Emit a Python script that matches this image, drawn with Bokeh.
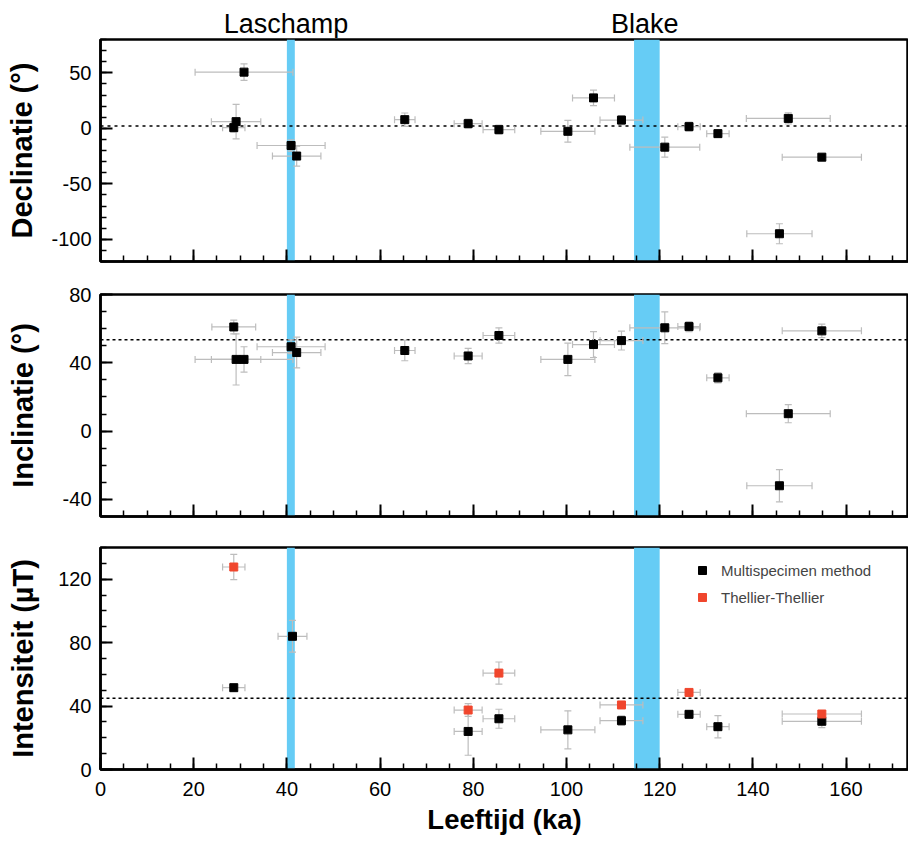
from bokeh.plotting import figure
from bokeh.models import (Range1d, ColumnDataSource, Whisker, TeeHead, BoxAnnotation,
                          Span, Legend, LegendItem, SingleIntervalTicker, NumeralTickFormatter)
from bokeh.core.properties import value
from bokeh.layouts import column
from bokeh.embed import file_html
from bokeh.resources import INLINE

# ---------------- data ----------------
ages = [28.6, 29.1, 30.8, 40.9, 42.1, 65.3, 78.9, 85.5, 100.3, 105.8, 111.8,
        121.1, 126.3, 132.5, 145.7, 147.6, 154.8]
dec_age_err = [2.4, 5.3, 10.5, 7.3, 5.2, 2.2, 3.0, 3.4, 5.8, 4.5, 4.6,
               7.5, 2.4, 2.4, 7.0, 9.0, 8.5]
inc_age_err = [4.7, 5.3, 10.5, 7.3, 5.2, 2.2, 3.0, 3.4, 5.8, 4.5, 4.6,
               7.5, 2.4, 2.4, 7.0, 9.0, 8.5]

declination = [0.6, 6.0, 50.6, -15.5, -25.0, 7.8, 4.2, -1.2, -2.7, 27.4, 7.4,
               -17.0, 1.5, -4.8, -95.0, 8.9, -26.0]
declination_err = [4.0, 15.5, 7.5, 5.0, 9.0, 6.0, 4.0, 4.0, 9.8, 7.0, 4.0,
                   9.0, 4.0, 3.0, 9.0, 5.0, 3.0]

inclination = [61.0, 42.0, 42.0, 49.4, 46.0, 47.2, 44.0, 56.0, 42.0, 50.7, 53.0,
               60.5, 61.2, 31.2, -32.0, 10.2, 58.7]
inclination_err = [4.0, 15.0, 7.4, 4.0, 9.0, 6.0, 4.5, 4.5, 9.5, 7.6, 5.5,
                   9.3, 3.0, 3.0, 9.4, 5.3, 4.0]

ms_ages = [28.6, 41.2, 78.9, 85.5, 100.3, 111.8, 126.3, 132.5, 154.8]
ms_age_err = [2.4, 3.1, 3.0, 3.4, 5.8, 4.6, 2.4, 2.4, 8.5]
ms_intensity = [51.6, 84.0, 24.0, 32.0, 25.0, 30.8, 34.8, 27.0, 30.4]
ms_intensity_err = [2.0, 10.0, 15.0, 6.0, 12.0, 3.0, 2.0, 7.0, 4.0]

tt_ages = [28.6, 78.9, 85.5, 111.8, 126.3, 154.8]
tt_age_err = [2.4, 3.0, 3.4, 4.6, 2.4, 8.5]
tt_intensity = [127.7, 37.5, 60.8, 40.7, 48.6, 35.0]
tt_intensity_err = [8.0, 4.0, 7.0, 2.0, 2.0, 2.0]

dec_mean, inc_mean, int_mean = 2.0, 53.5, 45.0

excursions = ["Laschamp", "Blake"]
excursion_start = [40.0, 114.5]
excursion_end = [41.7, 120.0]
excursion_label_x = [39.8, 116.8]

x_limits = (0, 173.4)
dec_limits = (-120, 80)
inc_limits = (-50, 80)
int_limits = (0, 140)

# ---------------- style ----------------
BLUE = "#66CCF5"
RED = "#F0462D"
GREY = "#BDBDBD"
FONT = "Liberation Sans"
W = 908
LEFT = 100

x_range = Range1d(*x_limits)


def make_fig(height, ylims, yint, ylabel, top, bottom, label_standoff, show_x):
    p = figure(width=W, height=height, x_range=x_range, y_range=Range1d(*ylims),
               output_backend="svg", toolbar_location=None,
               min_border_left=LEFT, min_border_right=0,
               min_border_top=top, min_border_bottom=bottom)
    p.background_fill_color = "white"
    p.border_fill_color = "white"
    p.outline_line_color = "black"
    p.outline_line_width = 2.5
    p.grid.visible = False
    p.xaxis.ticker = SingleIntervalTicker(interval=20, num_minor_ticks=4)
    p.yaxis.ticker = SingleIntervalTicker(interval=yint, num_minor_ticks=yint // 10)
    p.xaxis.formatter = NumeralTickFormatter(format="0")
    p.yaxis.formatter = NumeralTickFormatter(format="0")
    for ax in (p.xaxis[0], p.yaxis[0]):
        ax.axis_line_width = 2.5
        ax.axis_line_color = "black"
        ax.major_tick_in = 12
        ax.major_tick_out = 0
        ax.minor_tick_in = 6
        ax.minor_tick_out = 0
        ax.major_tick_line_width = 2
        ax.minor_tick_line_width = 1.5
        ax.major_label_text_font = FONT
        ax.major_label_text_font_size = "20px"
        ax.major_label_text_color = "black"
        ax.axis_label_text_font = FONT
        ax.axis_label_text_font_style = "bold"
        ax.axis_label_text_color = "black"
    p.yaxis.major_label_standoff = 9
    p.yaxis.axis_label = ylabel
    p.yaxis.axis_label_text_font_size = "29px"
    p.yaxis.axis_label_standoff = label_standoff
    if show_x:
        p.xaxis.major_label_standoff = 12
        p.xaxis.axis_label = "Leeftijd (ka)"
        p.xaxis.axis_label_text_font_size = "27.5px"
        p.xaxis.axis_label_standoff = 5
    else:
        p.xaxis.major_label_text_font_size = "1px"
        p.xaxis.major_label_text_color = None
        p.xaxis.major_label_standoff = 0
    for s, e in zip(excursion_start, excursion_end):
        p.add_layout(BoxAnnotation(left=s, right=e, fill_color=BLUE, fill_alpha=1.0,
                                   line_color=None, level="image"))
    return p


def add_points(p, x, xe, y, ye, color, mean=None, dash="3 3"):
    if mean is not None:
        p.add_layout(Span(location=mean, dimension="width", line_color="black",
                          line_width=1.5, line_dash=dash, level="underlay"))
    src = ColumnDataSource(dict(
        x=x, y=y,
        xl=[a - b for a, b in zip(x, xe)], xu=[a + b for a, b in zip(x, xe)],
        yl=[a - b for a, b in zip(y, ye)], yu=[a + b for a, b in zip(y, ye)]))
    for base, lo, up, dim in (("x", "yl", "yu", "height"), ("y", "xl", "xu", "width")):
        p.add_layout(Whisker(source=src, base=base, lower=lo, upper=up, dimension=dim,
                             line_color=GREY, line_width=1.2,
                             lower_head=TeeHead(size=7, line_color=GREY, line_width=1.2),
                             upper_head=TeeHead(size=7, line_color=GREY, line_width=1.2)))
    return p.scatter("x", "y", source=src, marker="square", size=8,
                     fill_color=color, line_color=color)


# strip with the excursion names above the first panel
LABEL_H = 38
p0 = figure(width=W, height=LABEL_H, x_range=x_range, y_range=Range1d(0, LABEL_H),
            output_backend="svg", toolbar_location=None,
            x_axis_location=None, y_axis_location=None,
            min_border_left=LEFT, min_border_right=0, min_border_top=0, min_border_bottom=0)
p0.outline_line_color = None
p0.grid.visible = False
p0.background_fill_color = "white"
p0.border_fill_color = "white"
p0.text(x=excursion_label_x, y=[15] * len(excursions), text=excursions,
        text_align="center", text_baseline="middle", text_font=value(FONT),
        text_font_size="27px", text_color="black")

p1 = make_fig(1 + 222 + 16, dec_limits, 50, "Declinatie (°)", 1, 16, 10, False)
add_points(p1, ages, dec_age_err, declination, declination_err, "black", dec_mean, "3 4")

p2 = make_fig(17 + 222 + 15, inc_limits, 40, "Inclinatie (°)", 17, 15, 21, False)
add_points(p2, ages, inc_age_err, inclination, inclination_err, "black", inc_mean)

p3 = make_fig(16 + 222 + 72, int_limits, 40, "Intensiteit (µT)", 16, 72, 16, True)
r_ms = add_points(p3, ms_ages, ms_age_err, ms_intensity, ms_intensity_err, "black", int_mean)
r_tt = add_points(p3, tt_ages, tt_age_err, tt_intensity, tt_intensity_err, RED)

legend = Legend(items=[LegendItem(label="Multispecimen method", renderers=[r_ms]),
                       LegendItem(label="Thellier-Thellier", renderers=[r_tt])],
                location=(592, 162), border_line_color=None, background_fill_alpha=0,
                label_text_font=FONT, label_text_font_size="15px",
                glyph_width=20, glyph_height=20, label_height=20,
                label_standoff=9, spacing=7, padding=0, margin=0)
p3.add_layout(legend)

layout = column(p0, p1, p2, p3, spacing=0)
open("out.html", "w").write(file_html(layout, INLINE))
